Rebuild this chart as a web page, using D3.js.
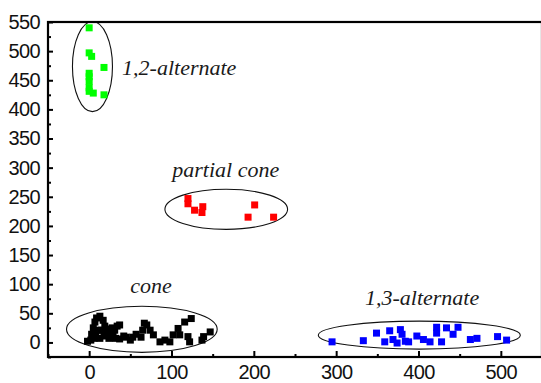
<!DOCTYPE html>
<html><head><meta charset="utf-8">
<script src="https://cdn.jsdelivr.net/npm/d3@7"></script>
<style>
html,body{margin:0;padding:0;background:#fff;overflow:hidden;}
svg{display:block;}
</style></head>
<body>
<svg id="chart" width="541" height="383"></svg>
<script>
// ---- data ----
const xTicks = [0, 100, 200, 300, 400, 500];
const yTicks = [0, 50, 100, 150, 200, 250, 300, 350, 400, 450, 500, 550];

const greenX = [0, 0, 3, 18, 0, 0, 0, 0, 0, 5, 18];
const greenY = [540, 497, 491, 472, 462, 456, 448, 437, 431, 428, 425];

const redX = [120, 120, 128, 138, 137, 201, 193, 224];
const redY = [247, 238, 227, 233, 223, 236, 215, 215];

const blackX = [-2, 2, 3, 5, 7, 9, 13, 17, 19, 22, 24, 6, 11, 15, 20, 8, 13, 18, 25, 28, 29, 31, 34, 37, 32, 37, 42, 45, 50, 53, 57, 63, 65, 67, 70, 74, 78, 86, 92, 98, 102, 108, 110, 116, 124, 120, 122, 137, 139, 147];
const blackY = [2, 4, 14, 25, 35, 42, 45, 38, 28, 18, 7, 7, 21, 21, 23, 11, 7, 11, 21, 25, 11, 21, 28, 30, 7, 6, 11, 9, 4, 9, 14, 9, 21, 33, 30, 21, 13, 1, 4, 1, 13, 24, 13, 35, 41, 10, 1, 4, 10, 18];

const blueX = [295, 333, 349, 359, 365, 378, 380, 369, 374, 384, 388, 398, 406, 414, 422, 422, 428, 434, 442, 448, 463, 471, 496, 507];
const blueY = [1, 3, 16, 1, 20, 22, 14, 5, -1, 2, 1, 11, 5, 1, 26, 16, 1, 25, 14, 26, 5, 7, 10, 4];

const groupNames = ["1,2-alternate", "partial cone", "cone", "1,3-alternate"];
// ellipse centre / radii in data units
const ellCX = [4, 166.5, 64, 401];
const ellCY = [473.5, 228.5, 22.5, 12.5];
const ellRX = [24.3, 74.5, 91.5, 122.7];
const ellRY = [77.3, 34.4, 39.5, 24];
// label anchor (left, baseline) in data units
const labelX = [40, 101, 50, 335];
const labelY = [459, 284, 85, 64];

// ---- layout ----
const svg = d3.select("#chart");
const x = d3.scaleLinear().domain([-50, 550]).range([48, 542]);
const y = d3.scaleLinear().domain([-25, 550]).range([357, 22]);

const series = [
  {x: greenX, y: greenY, color: "#00ff00"},
  {x: redX, y: redY, color: "#ff0000"},
  {x: blackX, y: blackY, color: "#000000"},
  {x: blueX, y: blueY, color: "#0000ff"}
];

// ellipses
svg.append("g").selectAll("ellipse").data(groupNames).join("ellipse")
  .attr("cx", (d, i) => x(ellCX[i]))
  .attr("cy", (d, i) => y(ellCY[i]))
  .attr("rx", (d, i) => x(ellRX[i]) - x(0))
  .attr("ry", (d, i) => y(0) - y(ellRY[i]))
  .attr("fill", "none").attr("stroke", "#111").attr("stroke-width", 1.1);

// points
const ms = 7;
series.forEach(s => {
  svg.append("g").selectAll("rect").data(s.x.map((v, i) => [v, s.y[i]])).join("rect")
    .attr("x", d => x(d[0]) - ms / 2)
    .attr("y", d => y(d[1]) - ms / 2)
    .attr("width", ms).attr("height", ms)
    .attr("fill", s.color);
});

// labels
svg.append("g").selectAll("text").data(groupNames).join("text")
  .attr("x", (d, i) => x(labelX[i]))
  .attr("y", (d, i) => y(labelY[i]))
  .attr("font-family", "'Liberation Serif', 'Times New Roman', serif")
  .attr("font-style", "italic")
  .attr("font-size", 22)
  .attr("fill", "#1a1a1a")
  .text(d => d);

// axes
const xAxis = d3.axisBottom(x).tickValues(xTicks).tickSize(-6).tickPadding(8).tickFormat(d3.format("d"));
const xMinor = d3.axisBottom(x).tickValues(d3.range(-50, 551, 50).filter(v => v % 100 !== 0)).tickSize(-3).tickFormat("");
const yAxis = d3.axisLeft(y).tickValues(yTicks).tickSize(-5).tickPadding(8).tickFormat(d3.format("d"));
const yMinor = d3.axisLeft(y).tickValues(d3.range(-25, 551, 25).filter(v => v % 50 !== 0)).tickSize(-3).tickFormat("");

function style(g) {
  g.select(".domain").remove();
  g.selectAll(".tick line").attr("stroke", "#000").attr("stroke-width", 2);
  g.selectAll(".tick text").attr("font-family", "'Liberation Sans', Arial, sans-serif")
    .attr("font-size", 20).attr("fill", "#111").attr("letter-spacing", "-0.6");
}
svg.append("g").attr("transform", `translate(0,${y(-25)})`).call(xAxis).call(style);
svg.append("g").attr("transform", `translate(0,${y(-25)})`).call(xMinor).call(style);
svg.append("g").attr("transform", `translate(${x(-50)},0)`).call(yAxis).call(style);
svg.append("g").attr("transform", `translate(${x(-50)},0)`).call(yMinor).call(style);

// frame
svg.append("rect")
  .attr("x", x(-50)).attr("y", y(550))
  .attr("width", x(550) - x(-50)).attr("height", y(-25) - y(550))
  .attr("fill", "none").attr("stroke", "#000").attr("stroke-width", 2.2);
</script>
</body></html>
